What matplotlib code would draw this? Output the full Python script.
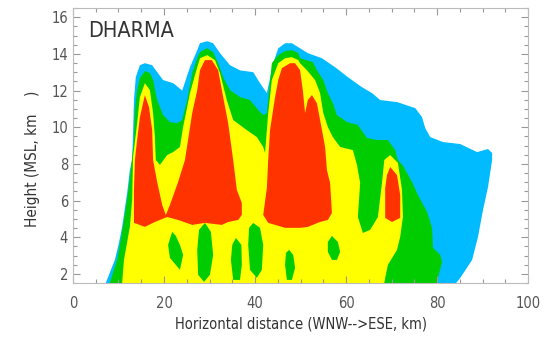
import matplotlib
matplotlib.use("Agg")
import matplotlib.pyplot as plt
from matplotlib import font_manager
from matplotlib.ticker import MultipleLocator

# reflectivity-like category regions (distance km, height km)
cyan_x = [7.2, 9.2, 10.1, 10.8, 11.9, 12.5, 13.0, 13.2, 13.4, 13.8, 14.7, 15.8, 17.4, 18.5, 19.8, 22.0,
          24.0, 25.7, 27.3, 27.9, 29.5, 30.8, 32.3, 34.5, 36.7, 39.6, 41.1, 42.6, 44.0, 45.1, 46.6,
          48.1, 49.9, 51.6, 54.7, 57.6, 60.4, 63.5, 65.7, 67.5, 71.2, 75.2, 76.7, 77.4, 78.5, 81.3,
          85.1, 88.8, 91.2, 92.1, 92.1, 91.2, 90.1, 89.0, 87.7, 85.1, 84.2]
cyan_y = [1.5, 2.76, 3.69, 4.56, 6.41, 7.66, 8.2, 9.68, 11.48, 12.73, 13.38, 13.49, 13.38, 13.0, 12.57, 12.4,
          12.0, 13.27, 14.2, 14.58, 14.69, 14.58, 14.04, 13.38, 13.1, 13.0, 12.4, 11.86, 13.49, 14.3, 14.58,
          14.58, 14.3, 14.04, 13.76, 13.27, 12.73, 12.18, 11.86, 11.48, 11.37, 11.04, 10.55, 9.95, 9.46, 9.19,
          9.08, 8.64, 8.81, 8.59, 8.21, 6.74, 5.49, 4.02, 2.76, 1.78, 1.5]

green_x = [8.1, 9.7, 10.5, 11.2, 12.1, 12.7, 13.4, 13.6, 14.1, 14.7, 15.8, 16.9, 17.6, 18.5, 19.8, 21.3,
           22.9, 24.0, 25.1, 26.2, 27.3, 27.9, 29.5, 30.8, 31.9, 33.0, 34.5, 36.7, 38.9, 40.7, 41.8,
           42.6, 43.7, 45.1, 46.6, 48.1, 49.5, 49.9, 52.7, 53.6, 55.0, 56.0, 57.1, 58.0, 60.2, 62.6,
           63.7, 64.6, 66.8, 69.2, 70.8, 71.4, 72.5, 74.5, 75.8, 77.8, 78.9, 79.1, 80.7, 81.1, 80.2, 80.0]
green_y = [1.5, 2.76, 3.85, 4.94, 6.41, 7.66, 9.3, 10.9, 12.0, 12.68, 13.06, 12.95, 12.57, 11.48, 10.66, 10.28,
           10.22, 10.39, 11.48, 12.95, 13.76, 14.09, 14.31, 14.09, 13.49, 12.73, 12.02, 11.64, 11.48, 10.93, 10.66,
           10.77, 13.49, 13.93, 14.15, 14.2, 14.04, 13.76, 13.55, 13.11, 12.57, 11.86, 11.31, 10.66, 10.28, 10.12,
           9.73, 9.41, 9.3, 9.3, 8.75, 8.21, 7.9, 7.01, 6.3, 5.38, 4.51, 3.42, 3.03, 2.65, 1.78, 1.5]

yellow_x = [10.8, 11.2, 12.5, 13.0, 13.2, 14.1, 14.7, 15.8, 16.9, 17.6, 18.0, 18.2, 19.1, 20.7, 22.0, 23.5,
            24.2, 25.7, 27.3, 27.9, 29.5, 31.2, 32.3, 33.8, 35.2, 38.2, 40.4, 41.8, 42.2, 42.9, 43.7,
            45.1, 46.6, 48.1, 49.5, 49.9, 51.4, 53.2, 54.3, 55.0, 56.0, 57.1, 58.7, 61.5, 62.4, 63.1,
            62.6, 63.7, 65.3, 67.0, 67.9, 68.4, 69.7, 71.4, 72.3, 72.5, 71.9, 71.2, 69.2, 68.6, 68.4]
yellow_y = [1.5, 2.76, 4.56, 6.03, 8.37, 10.22, 11.64, 12.4, 12.02, 10.77, 9.46, 8.21, 7.94, 8.48, 8.64, 8.92,
            10.01, 11.86, 13.27, 13.76, 13.93, 13.66, 12.95, 11.48, 10.39, 9.84, 9.46, 8.92, 8.59, 10.77, 12.57,
            13.49, 13.76, 13.82, 13.66, 13.49, 13.11, 12.57, 11.86, 10.77, 10.01, 9.46, 8.92, 8.75, 7.94, 6.96,
            5.1, 4.23, 4.4, 5.1, 6.96, 8.21, 8.48, 8.05, 6.58, 5.1, 4.02, 3.31, 2.49, 1.78, 1.5]

red_west_x = [13.4, 13.4, 13.6, 14.1, 14.7, 15.8, 16.7, 17.4, 17.6, 18.5, 19.6, 20.4, 21.3, 23.1, 24.6,
              26.2, 27.3, 27.9, 29.0, 30.5, 31.9, 33.0, 34.1, 35.2, 36.0, 37.1, 37.1, 36.3, 34.1, 32.7,
              29.0, 26.2, 23.1, 20.7, 18.0, 15.8, 14.1]
red_west_y = [4.78, 6.58, 8.21, 9.3, 10.55, 11.75, 11.1, 9.84, 8.21, 7.01, 5.76, 5.21, 5.76, 7.01, 8.21,
              10.77, 12.02, 13.11, 13.66, 13.66, 13.11, 11.64, 10.22, 8.21, 6.58, 5.87, 5.21, 4.94, 4.83, 4.67,
              4.78, 4.67, 4.94, 5.1, 4.83, 4.56, 4.72]

red_mid_x = [42.9, 41.8, 42.6, 42.9, 43.3, 44.4, 45.1, 45.9, 47.7, 48.8, 49.9, 50.5, 51.0, 51.6, 52.5,
             53.6, 54.3, 55.4, 55.8, 56.5, 56.9, 56.0, 54.3, 51.6, 49.9, 46.6]
red_mid_y = [4.78, 5.21, 6.68, 8.21, 9.84, 11.64, 12.57, 13.22, 13.49, 13.49, 13.11, 12.02, 10.77, 11.48, 11.75,
             11.31, 10.39, 8.92, 7.66, 6.96, 5.32, 4.94, 4.83, 4.56, 4.51, 4.51]

red_east_x = [69.7, 71.2, 71.9, 71.9, 70.1, 68.6, 68.6, 69.0]
red_east_y = [7.83, 7.39, 6.3, 5.05, 4.83, 5.05, 6.68, 7.39]

# low-level green cells embedded in the yellow
blobs_x = [
    [21.8, 22.6, 23.5, 24.2, 23.5, 21.3, 20.9],
    [29.0, 30.3, 30.8, 30.1, 28.8, 27.5, 27.3, 27.7],
    [35.8, 37.0, 37.1, 36.7, 35.2, 34.7, 35.0],
    [39.6, 41.1, 41.8, 41.5, 40.4, 38.9, 38.5, 38.7],
    [47.5, 48.4, 48.8, 48.1, 47.0, 46.6, 46.8],
    [56.9, 58.2, 58.7, 58.0, 56.9, 56.0, 56.0],
]
blobs_y = [
    [4.29, 4.07, 3.58, 3.03, 2.22, 2.87, 3.58],
    [4.78, 4.29, 3.03, 1.95, 1.56, 1.95, 3.31, 4.4],
    [3.96, 3.58, 2.49, 1.67, 1.67, 2.76, 3.58],
    [4.78, 4.51, 3.58, 2.22, 1.78, 2.22, 3.58, 4.51],
    [3.31, 3.03, 2.33, 1.67, 1.67, 2.49, 3.14],
    [4.07, 3.74, 3.2, 2.76, 2.76, 3.2, 3.74],
]

c_cyan = '#00BBFF'
c_green = '#00CC00'
c_yellow = '#FFFF00'
c_red = '#FF3300'

# narrow font if there is one, otherwise condensed DejaVu
names = {f.name for f in font_manager.fontManager.ttflist}
if 'Liberation Sans Narrow' in names:
    plt.rcParams['font.family'] = ['Liberation Sans Narrow', 'DejaVu Sans']
    fsize = 11
else:
    plt.rcParams['font.family'] = ['DejaVu Sans']
    plt.rcParams['font.stretch'] = 'condensed'
    fsize = 10.5

fig = plt.figure(figsize=(5.55, 3.37), dpi=100)
ax = fig.add_axes([0.1315, 0.1602, 0.82, 0.816])

ax.fill(cyan_x, cyan_y, color=c_cyan, lw=0)
ax.fill(green_x, green_y, color=c_green, lw=0)
ax.fill(yellow_x, yellow_y, color=c_yellow, lw=0)
for bx, by in zip(blobs_x, blobs_y):
    ax.fill(bx, by, color=c_green, lw=0)
ax.fill(red_west_x, red_west_y, color=c_red, lw=0)
ax.fill(red_mid_x, red_mid_y, color=c_red, lw=0)
ax.fill(red_east_x, red_east_y, color=c_red, lw=0)

ax.set_xlim(0, 100)
ax.set_ylim(1.5, 16.5)
ax.xaxis.set_major_locator(MultipleLocator(20))
ax.xaxis.set_minor_locator(MultipleLocator(5))
ax.yaxis.set_major_locator(MultipleLocator(2))
ax.yaxis.set_minor_locator(MultipleLocator(0.5))
ax.tick_params(which='both', direction='in', top=True, right=True, colors='#999999',
               labelcolor='#555555', labelsize=fsize, width=0.8)
ax.tick_params(which='major', length=5)
ax.tick_params(which='minor', length=3)
ax.tick_params(axis='x', which='both', pad=9)
for s in ax.spines.values():
    s.set_color('#bbbbbb')

ax.set_xlabel('Horizontal distance (WNW-->ESE, km)', fontsize=fsize, color='#333333', labelpad=4)
ax.set_ylabel('Height (MSL, km    )', fontsize=fsize + 0.5, color='#333333')
ax.yaxis.set_label_coords(-0.072, 0.45)
ax.text(0.033, 0.915, 'DHARMA', transform=ax.transAxes, fontsize=fsize + 5, color='#333333',
        ha='left', va='center')

fig.savefig('out.png', dpi=100)
